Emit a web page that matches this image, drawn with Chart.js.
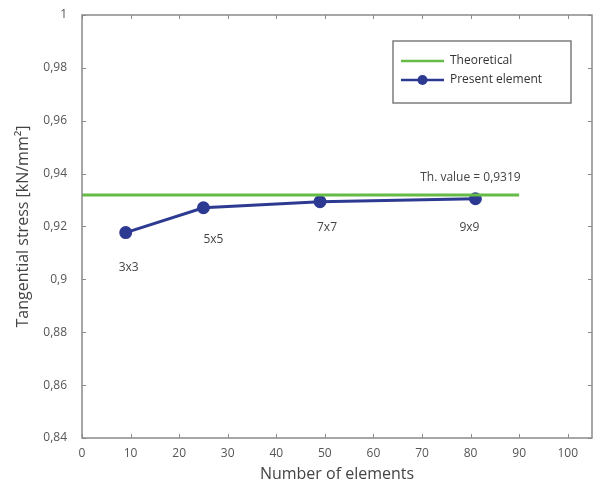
<!DOCTYPE html>
<html>
<head>
<meta charset="utf-8">
<script src="https://cdn.jsdelivr.net/npm/chart.js@4/dist/chart.umd.min.js"></script>
<style>
  body { margin: 0; background: #fff; }
  canvas { display: block; }
</style>
</head>
<body>
<canvas id="stressChart" width="600" height="488"></canvas>
<script>
const elementCounts = [9, 25, 49, 81];
const meshLabels = ['3x3', '5x5', '7x7', '9x9'];
const presentStress = [0.9177, 0.9271, 0.9294, 0.9305];
const theoreticalX = [0, 90];
const theoreticalValue = 0.9319;
const yTicks = [0.84, 0.86, 0.88, 0.9, 0.92, 0.94, 0.96, 0.98, 1];
const xTicks = [0, 10, 20, 30, 40, 50, 60, 70, 80, 90, 100];

const FONT = "'Open Sans', sans-serif";
const GREEN = '#66bb47';
const BLUE = '#2d3a92';
const AXIS = '#8a8a8a';

const comma = v => String(Math.round(v * 100) / 100).replace('.', ',');

// label offsets under each mesh point (pixels)
const labelOffsets = [[3, 35], [10, 32], [7, 26], [-6, 29]];

// keep tick-label overhang from shrinking the plot area
const noScalePadding = {
  id: 'noScalePadding',
  beforeLayout(chart) {
    Object.values(chart.scales).forEach(s => {
      s.getPadding = () => ({ left: 0, top: 0, right: 0, bottom: 0 });
    });
  }
};

// frame, inward ticks, point labels and the boxed legend
const decorations = {
  id: 'decorations',
  afterDatasetsDraw(chart) {
    const { ctx, chartArea: a, scales: { x, y } } = chart;
    ctx.save();
    ctx.strokeStyle = AXIS;
    ctx.lineWidth = 1.5;
    ctx.strokeRect(a.left, a.top, a.right - a.left, a.bottom - a.top);
    ctx.lineWidth = 1;
    xTicks.forEach(t => {
      const px = Math.round(x.getPixelForValue(t)) + 0.5;
      ctx.beginPath(); ctx.moveTo(px, a.bottom); ctx.lineTo(px, a.bottom - 4); ctx.stroke();
      ctx.beginPath(); ctx.moveTo(px, a.top); ctx.lineTo(px, a.top + 4); ctx.stroke();
    });
    yTicks.forEach(t => {
      const py = Math.round(y.getPixelForValue(t)) + 0.5;
      ctx.beginPath(); ctx.moveTo(a.left, py); ctx.lineTo(a.left + 4, py); ctx.stroke();
      ctx.beginPath(); ctx.moveTo(a.right, py); ctx.lineTo(a.right - 4, py); ctx.stroke();
    });

    ctx.fillStyle = '#444';
    ctx.font = `12px ${FONT}`;
    ctx.textAlign = 'center';
    ctx.textBaseline = 'middle';
    elementCounts.forEach((n, i) => {
      const px = x.getPixelForValue(n);
      const py = y.getPixelForValue(presentStress[i]);
      ctx.fillText(meshLabels[i], px + labelOffsets[i][0], py + labelOffsets[i][1]);
    });
    const last = elementCounts.length - 1;
    ctx.fillText('Th. value = ' + String(theoreticalValue).replace('.', ','),
      x.getPixelForValue(elementCounts[last]) - 5,
      y.getPixelForValue(presentStress[last]) - 21);

    // legend
    const lx = 393, ly = 41, lw = 178, lh = 62;
    ctx.fillStyle = '#fff';
    ctx.fillRect(lx, ly, lw, lh);
    ctx.strokeStyle = '#7d7d7d';
    ctx.lineWidth = 1.5;
    ctx.strokeRect(lx, ly, lw, lh);
    chart.data.datasets.forEach((ds, i) => {
      const yy = ly + 20 + i * 19;
      ctx.strokeStyle = ds.borderColor;
      ctx.lineWidth = 2.5;
      ctx.beginPath(); ctx.moveTo(lx + 8, yy); ctx.lineTo(lx + 51, yy); ctx.stroke();
      if (ds.pointRadius) {
        ctx.fillStyle = ds.pointBackgroundColor;
        ctx.beginPath(); ctx.arc(lx + 29.5, yy, 5, 0, Math.PI * 2); ctx.fill();
      }
      ctx.fillStyle = '#333';
      ctx.textAlign = 'left';
      ctx.fillText(ds.label, lx + 57, yy);
    });
    ctx.restore();
  }
};

new Chart(document.getElementById('stressChart'), {
  type: 'line',
  data: {
    datasets: [
      {
        label: 'Theoretical',
        data: theoreticalX.map(n => ({ x: n, y: theoreticalValue })),
        borderColor: GREEN,
        borderWidth: 3,
        pointRadius: 0
      },
      {
        label: 'Present element',
        data: elementCounts.map((n, i) => ({ x: n, y: presentStress[i] })),
        borderColor: BLUE,
        backgroundColor: BLUE,
        pointBackgroundColor: BLUE,
        pointBorderColor: BLUE,
        borderWidth: 3,
        pointRadius: 5
      }
    ]
  },
  options: {
    responsive: false,
    animation: false,
    layout: { padding: { top: 15, right: 2, left: 10, bottom: 0 } },
    plugins: { legend: { display: false }, tooltip: { enabled: false } },
    scales: {
      x: {
        type: 'linear',
        min: 0,
        max: 105,
        afterBuildTicks: s => { s.ticks = xTicks.map(v => ({ value: v })); },
        afterFit: s => { s.height = 50; },
        grid: { display: false },
        border: { display: false },
        ticks: { color: '#555', font: { family: FONT, size: 12 }, padding: 0, maxRotation: 0 },
        title: { display: true, text: 'Number of elements', color: '#444', font: { family: FONT, size: 16 }, padding: { top: 1 } }
      },
      y: {
        min: 0.84,
        max: 1,
        afterBuildTicks: s => { s.ticks = yTicks.map(v => ({ value: v })); },
        afterFit: s => { s.width = 72; },
        grid: { display: false },
        border: { display: false },
        ticks: { color: '#555', font: { family: FONT, size: 12 }, padding: 7, callback: v => comma(v) },
        title: { display: true, text: 'Tangential stress [kN/mm²]', color: '#444', font: { family: FONT, size: 16 }, padding: { bottom: 6 } }
      }
    }
  },
  plugins: [noScalePadding, decorations]
});
</script>
</body>
</html>
